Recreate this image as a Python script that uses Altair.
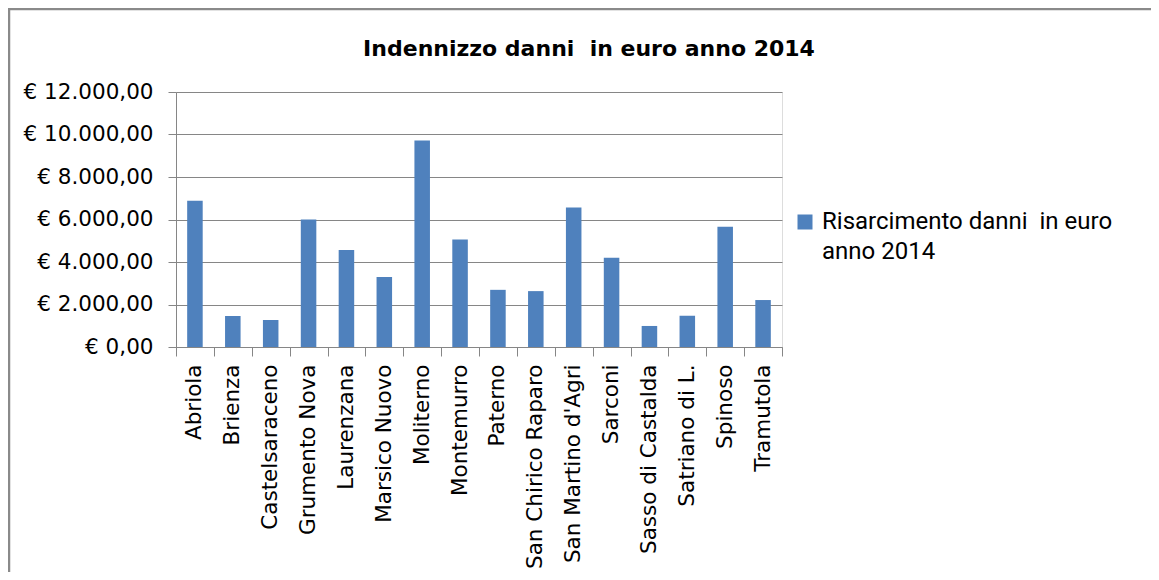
import altair as alt
import pandas as pd

comuni = ["Abriola", "Brienza", "Castelsaraceno", "Grumento Nova", "Laurenzana",
          "Marsico Nuovo", "Moliterno", "Montemurro", "Paterno", "San Chirico Raparo",
          "San Martino d'Agri", "Sarconi", "Sasso di Castalda", "Satriano di L.",
          "Spinoso", "Tramutola"]
valori = [6880, 1460, 1270, 6000, 4560, 3300, 9720, 5060, 2690, 2630,
          6560, 4200, 990, 1470, 5660, 2210]
serie = "Risarcimento danni \u00a0in euro anno 2014"
titolo = "Indennizzo danni \u00a0in euro anno 2014"
y_ticks = [0, 2000, 4000, 6000, 8000, 10000, 12000]

df = pd.DataFrame({"comune": comuni, "valore": valori, "serie": [serie] * len(comuni)})

GRID = "#868686"
BLUE = "#4F81BD"
W, H = 606, 255

bars = alt.Chart(df).mark_bar(width=alt.RelativeBandSize(0.41), color=BLUE).encode(
    x=alt.X("comune:N", sort=comuni, title=None,
            scale=alt.Scale(paddingInner=0, paddingOuter=0),
            axis=alt.Axis(labelAngle=270, tickBand="extent", tickSize=9, labelPadding=8,
                          labelFont="DejaVu Sans", labelFontSize=21.5, labelColor="black",
                          domainColor=GRID, tickColor=GRID, grid=False,
                          labelOverlap=False, labelLimit=300)),
    y=alt.Y("valore:Q", title=None,
            scale=alt.Scale(domain=[0, 12000], nice=False),
            axis=alt.Axis(values=y_ticks, grid=True, gridColor=GRID, domainColor=GRID,
                          tickColor=GRID, tickSize=8, labelPadding=15,
                          labelFont="DejaVu Sans", labelFontSize=21.5, labelColor="black",
                          labelExpr="'€ ' + replace(replace(replace(format(datum.value, ',.2f'), ',', '#'), '.', ','), '#', '.')")),
    color=alt.Color("serie:N", scale=alt.Scale(range=[BLUE]),
                    legend=alt.Legend(title=None, orient="none", legendX=617, legendY=118,
                                      symbolType="square", symbolSize=225, symbolStrokeWidth=0,
                                      labelFont="Roboto", labelFontSize=24, labelColor="black",
                                      labelOffset=5, labelLimit=500, labelBaseline="middle",
                                      labelExpr="[substring(datum.label, 0, 27), substring(datum.label, 28)]")),
)

frame_data = alt.Data(values=[{"k": 1}])
top_border = alt.Chart(frame_data).mark_rule(color="#8a8a8a", strokeWidth=2.5).encode(
    x=alt.value(-168), x2=alt.value(W + 369), y=alt.value(-83))
left_border = alt.Chart(frame_data).mark_rule(color="#8a8a8a", strokeWidth=2.5).encode(
    x=alt.value(-167), y=alt.value(-84), y2=alt.value(H + 225))

chart = alt.layer(bars, top_border, left_border).properties(
    width=W, height=H,
    autosize=alt.AutoSizeParams(type="none"),
    padding={"left": 168, "top": 84, "right": 369, "bottom": 225},
    title=alt.TitleParams(titolo, font="DejaVu Sans", fontSize=22, fontWeight="bold",
                          color="black", anchor="middle", dx=110, dy=58),
).configure_view(stroke=None).configure(style={"guide-label": {"lineHeight": 30}})

chart.save("out.html", embed_options={"renderer": "svg", "actions": False})
